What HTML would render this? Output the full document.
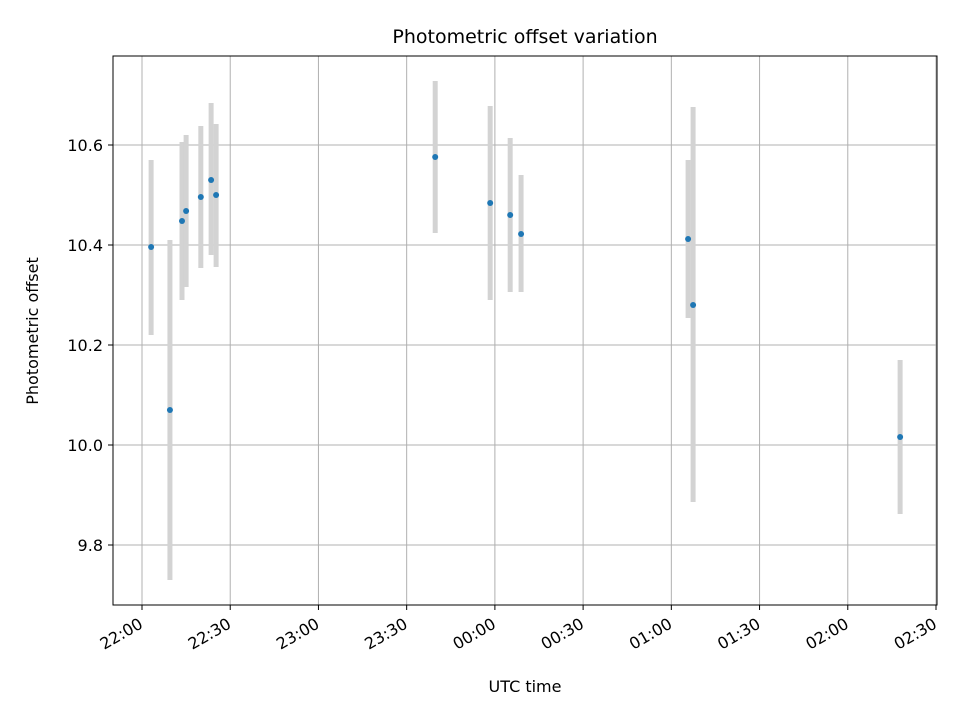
<!DOCTYPE html>
<html><head><meta charset="utf-8"><style>
body{margin:0;background:#fff;}
svg{display:block;font-family:"DejaVu Sans","Liberation Sans",sans-serif;}
</style></head><body>
<svg id="chart" width="960" height="720" xmlns="http://www.w3.org/2000/svg">
<rect width="960" height="720" fill="#fff"/>
<text x="525" y="43" text-anchor="middle" font-size="19">Photometric offset variation</text>
<text x="525" y="692" text-anchor="middle" font-size="16">UTC time</text>
<text transform="translate(38,331) rotate(-90)" text-anchor="middle" font-size="16">Photometric offset</text>
<g id="grid"></g><g id="marks"></g><g id="axes"></g>
</svg>
<script>
const minutes = [3.1, 9.5, 13.6, 15, 20, 23.5, 25.2, 99.7, 118.4, 125.2, 128.9, 185.7, 187.4, 257.8];
const offsets = [10.396, 10.07, 10.448, 10.468, 10.496, 10.53, 10.5, 10.576, 10.484, 10.46, 10.422, 10.412, 10.28, 10.016];
const errHigh = [10.57, 10.41, 10.606, 10.62, 10.638, 10.684, 10.642, 10.728, 10.678, 10.614, 10.54, 10.57, 10.676, 10.17];
const errLow = [10.22, 9.73, 10.29, 10.316, 10.354, 10.38, 10.356, 10.424, 10.29, 10.306, 10.306, 10.254, 9.886, 9.862];
const xTicks = [0, 30, 60, 90, 120, 150, 180, 210, 240, 270];
const xTickLabels = ["22:00","22:30","23:00","23:30","00:00","00:30","01:00","01:30","02:00","02:30"];
const yTicks = [9.8, 10.0, 10.2, 10.4, 10.6];
const yTickLabels = ["9.8","10.0","10.2","10.4","10.6"];

const L=113,R=937,T=56,B=605;
const xs = m => 142 + m*(936-142)/270;
const ys = v => 445 - (v-10)*500;
const NS="http://www.w3.org/2000/svg";
function mk(tag, attrs, parent){const e=document.createElementNS(NS,tag);for(const k in attrs)e.setAttribute(k,attrs[k]);parent.appendChild(e);return e;}
const grid=document.getElementById('grid'), marks=document.getElementById('marks'), axes=document.getElementById('axes');

xTicks.forEach((t,i)=>{
  const x=xs(t);
  const g=mk('line',{x1:x,x2:x,y1:T,y2:B,stroke:'#b0b0b0','stroke-width':1},grid);
  
  
  const tk=mk('line',{x1:x,x2:x,y1:B,y2:B+5,stroke:'#000','stroke-width':1},axes);
  
  
  const tx=mk('text',{transform:`translate(${x+2},${B+22}) rotate(-30)`,'text-anchor':'end','font-size':16},axes);
  tx.textContent=xTickLabels[i];
  
  
});
yTicks.forEach((t,i)=>{
  const y=ys(t);
  const g=mk('line',{x1:L,x2:R,y1:y,y2:y,stroke:'#b0b0b0','stroke-width':1},grid);
  
  
  const tk=mk('line',{x1:L-5,x2:L,y1:y,y2:y,stroke:'#000','stroke-width':1},axes);
  
  
  const tx=mk('text',{x:L-10,y:y+6,'text-anchor':'end','font-size':16},axes);
  tx.textContent=yTickLabels[i];
  
  
});
minutes.forEach((m,i)=>{
  const x=xs(m);
  const eb=mk('line',{x1:x,x2:x,y1:ys(errHigh[i]),y2:ys(errLow[i]),stroke:'#d3d3d3','stroke-width':5},marks);
  
  
});
minutes.forEach((m,i)=>{
  const p=mk('circle',{cx:xs(m),cy:ys(offsets[i]),r:3,fill:'#1f77b4'},marks);
  
  
});
const frame=mk('rect',{x:L,y:T,width:R-L,height:B-T,fill:'none',stroke:'#000','stroke-width':1},axes);


</script>
</body></html>
